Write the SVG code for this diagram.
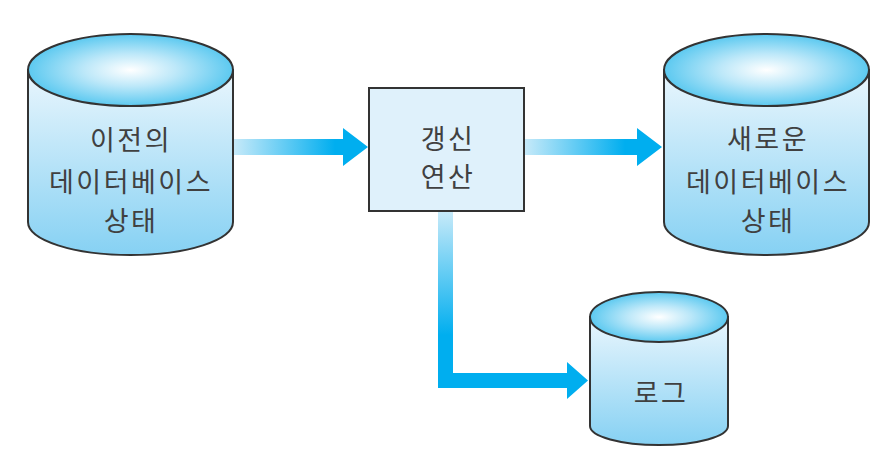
<svg xmlns="http://www.w3.org/2000/svg" width="885" height="462" viewBox="0 0 885 462">
<defs>
<linearGradient id="body" x1="0" y1="0" x2="0" y2="1">
<stop offset="0" stop-color="#eaf6fd"/>
<stop offset="1" stop-color="#86d1f3"/>
</linearGradient>
<radialGradient id="top" cx="0.5" cy="0.5" r="0.5">
<stop offset="0" stop-color="#ffffff"/>
<stop offset="0.45" stop-color="#bde8f9"/>
<stop offset="1" stop-color="#5cc9f0"/>
</radialGradient>
<linearGradient id="gL" gradientUnits="userSpaceOnUse" x1="233" y1="0" x2="335" y2="0">
<stop offset="0" stop-color="#c8eaf9"/>
<stop offset="1" stop-color="#00aeef"/>
</linearGradient>
<linearGradient id="gR" gradientUnits="userSpaceOnUse" x1="524" y1="0" x2="625" y2="0">
<stop offset="0" stop-color="#c8eaf9"/>
<stop offset="1" stop-color="#00aeef"/>
</linearGradient>
<linearGradient id="gV" gradientUnits="userSpaceOnUse" x1="0" y1="211" x2="0" y2="335">
<stop offset="0" stop-color="#c8eaf9"/>
<stop offset="1" stop-color="#00aeef"/>
</linearGradient>
</defs>
<style>
.cyl{stroke:#333;stroke-width:2;}
.lbl{font-family:"Noto Sans CJK KR","Noto Sans",sans-serif;font-size:27px;fill:#404040;text-anchor:middle;dominant-baseline:central;letter-spacing:2.5px;}
</style>
<rect width="885" height="462" fill="#ffffff"/>
<g id="connectors">
<polygon points="233,139 343,139 343,128 368,147 343,166 343,155 233,155" fill="url(#gL)"/>
<polygon points="524,139 637,139 637,128 662,147 637,166 637,155 524,155" fill="url(#gR)"/>
<polygon points="438,211 453,211 453,373 567,373 567,362 588,380.5 567,399 567,388 438,388" fill="url(#gV)"/>
</g>
<g id="old-db">
<path class="cyl" d="M28,70 L28,222 A102.5,33 0 0 0 233,222 L233,70 Z" fill="url(#body)"/>
<ellipse class="cyl" cx="130.5" cy="70" rx="102.5" ry="36" fill="url(#top)"/>
<text class="lbl" x="131" y="138">이전의</text>
<text class="lbl" x="131" y="180">데이터베이스</text>
<text class="lbl" x="131" y="219">상태</text>
</g>
<g id="update">
<rect x="369" y="88" width="155" height="123" fill="#dff1fb" stroke="#333" stroke-width="2"/>
<text class="lbl" x="448" y="137">갱신</text>
<text class="lbl" x="448" y="175">연산</text>
</g>
<g id="new-db">
<path class="cyl" d="M664,70 L664,222 A102.5,33 0 0 0 869,222 L869,70 Z" fill="url(#body)"/>
<ellipse class="cyl" cx="766.5" cy="70" rx="102.5" ry="36" fill="url(#top)"/>
<text class="lbl" x="768" y="137">새로운</text>
<text class="lbl" x="768" y="180">데이터베이스</text>
<text class="lbl" x="768" y="219">상태</text>
</g>
<g id="log">
<path class="cyl" d="M590,317 L590,426 A69,19 0 0 0 728,426 L728,317 Z" fill="url(#body)"/>
<ellipse class="cyl" cx="659" cy="317" rx="69" ry="25" fill="url(#top)"/>
<text class="lbl" x="661" y="391">로그</text>
</g>
</svg>
